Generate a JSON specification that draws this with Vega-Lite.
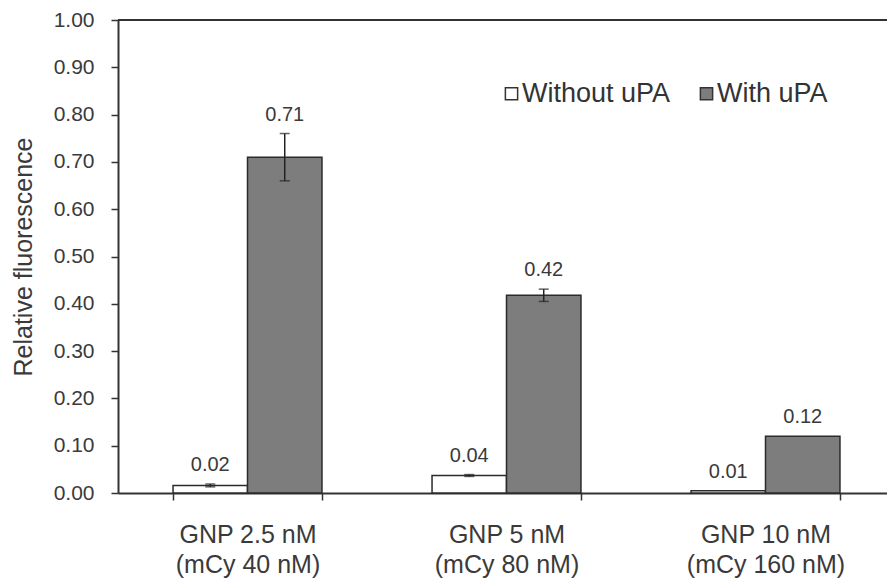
{
  "$schema": "https://vega.github.io/schema/vega-lite/v6.json",
  "width": 769,
  "height": 473,
  "autosize": {"type": "none"},
  "padding": {"left": 118, "top": 20, "right": 0, "bottom": 88},
  "background": "white",
  "config": {
    "view": {"stroke": null},
    "font": "Liberation Sans",
    "axis": {"domainColor": "#333333", "tickColor": "#333333", "domainWidth": 2, "tickWidth": 1.5, "labelColor": "#3a3a3a", "titleColor": "#3a3a3a", "grid": false}
  },
  "data": {
    "values": [
      {"group": "GNP 2.5 nM (mCy 40 nM)", "condition": "Without uPA", "value": 0.016, "lower": 0.013, "upper": 0.019},
      {"group": "GNP 2.5 nM (mCy 40 nM)", "condition": "With uPA", "value": 0.71, "lower": 0.66, "upper": 0.76},
      {"group": "GNP 5 nM (mCy 80 nM)", "condition": "Without uPA", "value": 0.037, "lower": 0.035, "upper": 0.039},
      {"group": "GNP 5 nM (mCy 80 nM)", "condition": "With uPA", "value": 0.418, "lower": 0.405, "upper": 0.431},
      {"group": "GNP 10 nM (mCy 160 nM)", "condition": "Without uPA", "value": 0.005, "lower": 0.005, "upper": 0.005},
      {"group": "GNP 10 nM (mCy 160 nM)", "condition": "With uPA", "value": 0.12, "lower": 0.12, "upper": 0.12}
    ]
  },
  "layer": [
    {
      "encoding": {
        "x": {
          "field": "group", "type": "nominal", "sort": null,
          "scale": {"range": [0, 777], "paddingInner": 0.425, "paddingOuter": 0.2125},
          "axis": {
            "title": null, "labelAngle": 0,
            "labelExpr": "[slice(datum.label, 0, indexof(datum.label, ' (')), slice(datum.label, indexof(datum.label, ' (') + 1)]",
            "labelFontSize": 25, "labelLineHeight": 30, "labelBaseline": "top", "labelPadding": 22,
            "tickSize": 7, "tickBand": "extent"
          }
        },
        "xOffset": {"field": "condition", "type": "nominal", "sort": ["Without uPA", "With uPA"], "scale": {"paddingInner": 0, "paddingOuter": 0}}
      },
      "layer": [
        {
          "mark": {"type": "bar", "stroke": "#2b2b2b", "strokeWidth": 1.5},
          "encoding": {
            "y": {
              "field": "value", "type": "quantitative", "scale": {"domain": [0, 1]},
              "axis": {
                "title": "Relative fluorescence",
                "values": [0, 0.1, 0.2, 0.3, 0.4, 0.5, 0.6, 0.7, 0.8, 0.9, 1.0],
                "format": ".2f", "labelFontSize": 21, "tickSize": 7, "labelPadding": 17,
                "titleFontSize": 25, "titleFontWeight": "normal", "titleX": -87, "titleBaseline": "alphabetic"
              }
            },
            "color": {
              "field": "condition", "type": "nominal",
              "scale": {"domain": ["Without uPA", "With uPA"], "range": ["#ffffff", "#7d7d7d"]},
              "legend": {
                "title": null, "orient": "none", "legendX": 380, "legendY": 60, "direction": "horizontal",
                "symbolType": "square", "symbolSize": 150, "symbolStrokeColor": "#333333", "symbolStrokeWidth": 1.5,
                "labelFontSize": 27, "labelColor": "#333333", "labelOffset": -3, "columnPadding": 22
              }
            }
          }
        },
        {
          "transform": [{"filter": "datum.upper > datum.lower"}],
          "mark": {"type": "rule", "color": "#222222", "strokeWidth": 1.5},
          "encoding": {"y": {"field": "lower", "type": "quantitative"}, "y2": {"field": "upper"}}
        },
        {
          "transform": [{"filter": "datum.upper > datum.lower"}],
          "mark": {"type": "tick", "color": "#222222", "thickness": 1.5, "size": 10},
          "encoding": {"y": {"field": "upper", "type": "quantitative"}}
        },
        {
          "transform": [{"filter": "datum.upper > datum.lower"}],
          "mark": {"type": "tick", "color": "#222222", "thickness": 1.5, "size": 10},
          "encoding": {"y": {"field": "lower", "type": "quantitative"}}
        },
        {
          "mark": {"type": "text", "dy": -19, "fontSize": 20, "color": "#3a3a3a", "baseline": "middle"},
          "encoding": {"y": {"field": "upper", "type": "quantitative"}, "text": {"field": "value", "type": "quantitative", "format": ".2f"}}
        }
      ]
    },
    {
      "mark": {"type": "rule", "color": "#333333", "strokeWidth": 1.5},
      "encoding": {"y": {"datum": 1, "type": "quantitative"}}
    }
  ]
}
